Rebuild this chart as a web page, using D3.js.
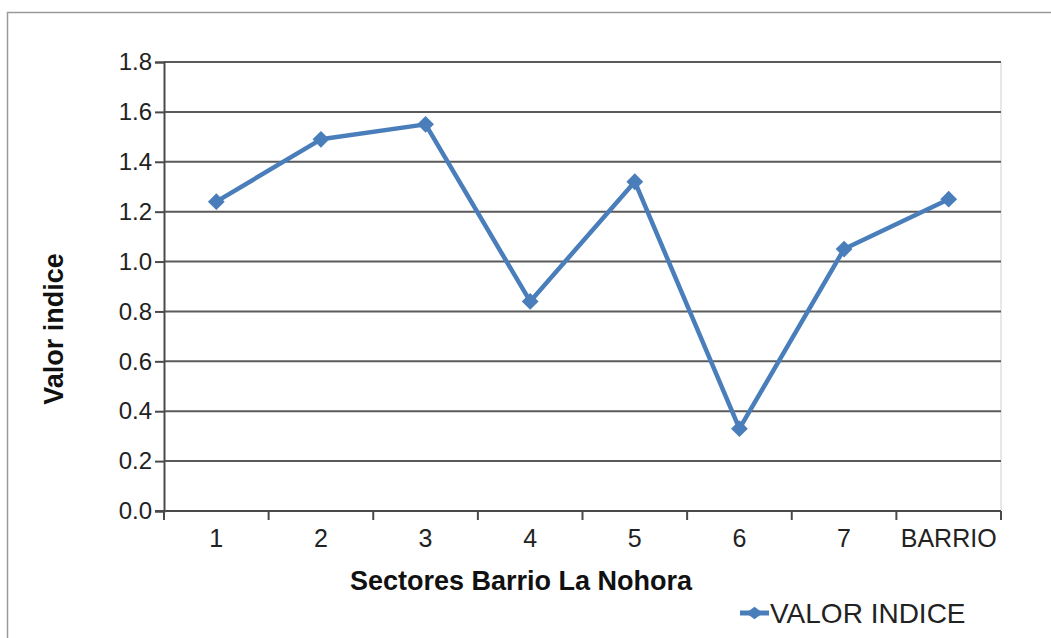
<!DOCTYPE html>
<html>
<head>
<meta charset="utf-8">
<script src="https://cdn.jsdelivr.net/npm/d3@7"></script>
<style>
body { margin: 0; background: #fff; }
text { font-family: "Liberation Sans", Arial, sans-serif; }
</style>
</head>
<body>
<div id="chart"></div>
<script>
const sectores = ['1', '2', '3', '4', '5', '6', '7', 'BARRIO'];
const valores = [1.24, 1.49, 1.55, 0.84, 1.32, 0.33, 1.05, 1.25];
const yTicks = [0, 0.2, 0.4, 0.6, 0.8, 1.0, 1.2, 1.4, 1.6, 1.8];
const serie = 'VALOR INDICE';

const width = 1051, height = 638;
const pLeft = 164, pRight = 1001, pTop = 62, pBottom = 511;
const color = '#4a7ebb';

const svg = d3.select('#chart')
    .append('svg')
    .attr('width', width)
    .attr('height', height);

// outer frame
svg.append('rect')
    .attr('x', 7.5).attr('y', 12.5)
    .attr('width', 1100).attr('height', 700)
    .attr('fill', 'none')
    .attr('stroke', '#9a9a9a')
    .attr('stroke-width', 1.5);

let scaleX = d3.scaleBand().domain(sectores).range([pLeft, pRight]).padding(0);
let scaleY = d3.scaleLinear().domain([0, 1.8]).range([pBottom, pTop]);

// right edge of plot area
svg.append('line')
    .attr('x1', pRight).attr('x2', pRight)
    .attr('y1', pTop).attr('y2', pBottom)
    .attr('stroke', '#d0d0d0');

// gridlines
svg.append('g')
    .selectAll('line')
    .data(yTicks.filter(d => d > 0))
    .enter()
    .append('line')
    .attr('x1', pLeft).attr('x2', pRight)
    .attr('y1', d => scaleY(d)).attr('y2', d => scaleY(d))
    .attr('stroke', '#5a5a5a')
    .attr('stroke-width', 2);

let yAxis = d3.axisLeft(scaleY).tickValues(yTicks).tickFormat(d3.format('.1f')).tickSize(9).tickPadding(3);
let yAxisGroup = svg.append('g')
    .attr('transform', 'translate(' + pLeft + ',0)')
    .call(yAxis);
yAxisGroup.select('.domain').attr('stroke', '#4a4a4a').attr('stroke-width', 2);
yAxisGroup.selectAll('.tick line').attr('stroke', '#4a4a4a').attr('stroke-width', 2);
yAxisGroup.selectAll('.tick text')
    .style('font-size', '24px')
    .attr('fill', '#222');

// x axis with ticks at band boundaries
let xAxisGroup = svg.append('g')
    .attr('transform', 'translate(0,' + pBottom + ')');
xAxisGroup.append('line')
    .attr('x1', pLeft - 9).attr('x2', pRight)
    .attr('stroke', '#4a4a4a').attr('stroke-width', 2);
xAxisGroup.selectAll('.xt')
    .data(sectores.map(d => scaleX(d)).concat([pRight]))
    .enter()
    .append('line')
    .attr('x1', d => d).attr('x2', d => d)
    .attr('y1', 0).attr('y2', 9)
    .attr('stroke', '#4a4a4a').attr('stroke-width', 2);
xAxisGroup.selectAll('.xl')
    .data(sectores)
    .enter()
    .append('text')
    .attr('x', d => scaleX(d) + scaleX.bandwidth() / 2)
    .attr('y', 36)
    .attr('text-anchor', 'middle')
    .attr('fill', '#222')
    .style('font-size', '25px')
    .text(d => d);

// line
const line = d3.line()
    .x((d, i) => scaleX(sectores[i]) + scaleX.bandwidth() / 2)
    .y(d => scaleY(d));

svg.append('path')
    .datum(valores)
    .attr('d', line)
    .attr('fill', 'none')
    .attr('stroke', color)
    .attr('stroke-width', 4.5)
    .attr('stroke-linejoin', 'round');

const diamond = d3.symbol().type(d3.symbolDiamond2).size(180);
svg.selectAll('.pt')
    .data(valores)
    .enter()
    .append('path')
    .attr('d', diamond)
    .attr('transform', (d, i) => 'translate(' + (scaleX(sectores[i]) + scaleX.bandwidth() / 2) + ',' + scaleY(d) + ')')
    .attr('fill', color);

// axis titles
svg.append('text')
    .attr('x', 521)
    .attr('y', 590)
    .attr('text-anchor', 'middle')
    .style('font-size', '27px')
    .style('font-weight', 'bold')
    .attr('fill', '#111')
    .text('Sectores Barrio La Nohora');

svg.append('text')
    .attr('transform', 'translate(63,329) rotate(-90)')
    .attr('text-anchor', 'middle')
    .style('font-size', '27px')
    .style('font-weight', 'bold')
    .attr('fill', '#111')
    .text('Valor indice');

// legend
const lg = svg.append('g').attr('transform', 'translate(740,613)');
lg.append('line')
    .attr('x1', 0).attr('x2', 29)
    .attr('stroke', color).attr('stroke-width', 5);
lg.append('path')
    .attr('d', diamond)
    .attr('transform', 'translate(14.5,0) scale(1,0.75)')
    .attr('fill', color);
lg.append('text')
    .attr('x', 30).attr('y', 10)
    .style('font-size', '28px')
    .attr('fill', '#222')
    .text(serie);
</script>
</body>
</html>
